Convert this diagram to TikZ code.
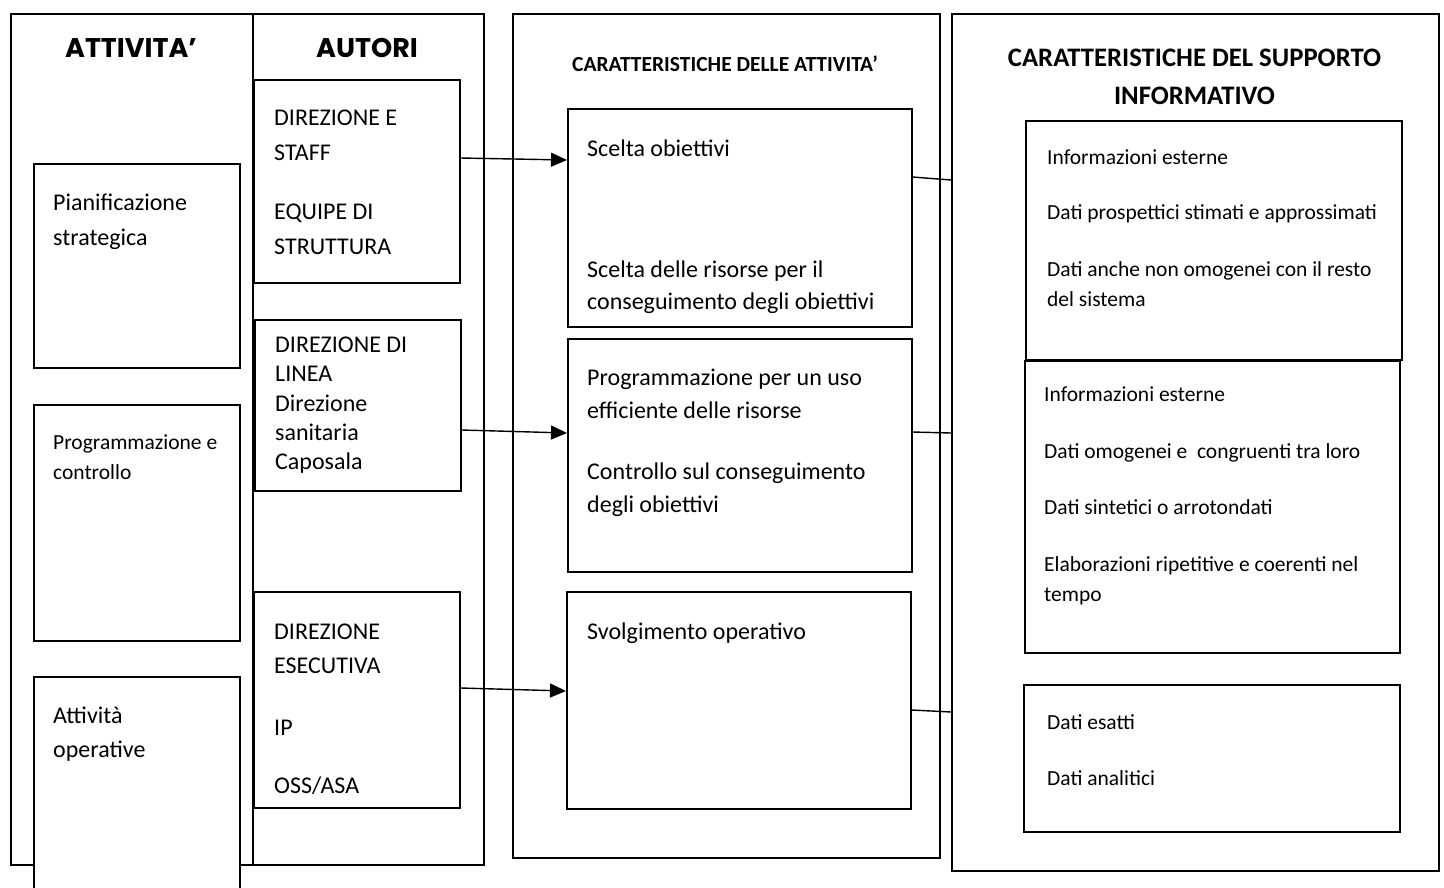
\documentclass[tikz,border=0pt]{standalone}
\usepackage{fontspec}
\setmainfont{Carlito}
\newfontfamily\geofont{Poppins}
\usetikzlibrary{arrows.meta}
\newcommand\fsz[1]{\fontsize{#1}{#1}\selectfont}
\tikzset{
  col/.style={draw, line width=1.6pt, inner sep=0pt, anchor=north west},
  box/.style={draw, fill=white, line width=1.6pt, inner sep=0pt, anchor=north west},
  tx/.style={anchor=base west, inner sep=0pt, font=\fsz{24}},
  ts/.style={anchor=base west, inner sep=0pt, font=\fsz{21.5}},
  ti/.style={anchor=base west, inner sep=0pt, font=\fsz{21.5}},
  hd/.style={anchor=base, inner sep=0pt, font=\geofont\bfseries\fsz{27}},
  hc/.style={anchor=base, inner sep=0pt, font=\bfseries\fsz{21.5}},
  hs/.style={anchor=base, inner sep=0pt, font=\bfseries\fsz{26.7}},
  arr/.style={line width=1.4pt, -{Triangle[length=16pt,width=14pt]}},
  link/.style={line width=1.4pt},
}
\begin{document}
\begin{tikzpicture}[x=1pt,y=-1pt]
\clip (0,0) rectangle (1444,887);
\fill[white] (0,0) rectangle (1444,887);
% columns
\node[col, minimum width=242pt, minimum height=851pt] (colAtt) at (10,13) {};
\node[col, minimum width=231pt, minimum height=851pt] (colAut) at (252,13) {};
\node[col, minimum width=427pt, minimum height=844pt] (colCar) at (512,13) {};
\node[col, minimum width=487pt, minimum height=857pt] (colSup) at (951,13) {};
% headings
\node[hd] (hAtt) at (131,57) {ATTIVITA’};
\node[hd] (hAut) at (367,57) {AUTORI};
\node[hc] (hCar) at (725,71) {CARATTERISTICHE DELLE ATTIVITA’};
\node[hs] (hSup1) at (1194.5,66) {CARATTERISTICHE DEL SUPPORTO};
\node[hs] (hSup2) at (1194.5,104) {INFORMATIVO};
% activity boxes
\node[box, minimum width=206pt, minimum height=204pt] (pian) at (33,163) {};
\node[box, minimum width=206pt, minimum height=236pt] (prog) at (33,404) {};
\node[box, minimum width=206pt, minimum height=240pt] (oper) at (33,676) {};
% author boxes
\node[box, minimum width=206pt, minimum height=203pt] (staff) at (253,79) {};
\node[box, minimum width=206pt, minimum height=171pt] (linea) at (254,319) {};
\node[box, minimum width=206pt, minimum height=216pt] (esec) at (253,591) {};
% characteristic boxes
\node[box, minimum width=344pt, minimum height=218pt] (scelta) at (567,108) {};
\node[box, minimum width=344pt, minimum height=233pt] (progm) at (567,338) {};
\node[box, minimum width=344pt, minimum height=217pt] (svol) at (566,591) {};
% information boxes
\node[box, minimum width=376pt, minimum height=239pt] (info1) at (1025,120) {};
\node[box, minimum width=375pt, minimum height=292pt] (info2) at (1024,360) {};
\node[box, minimum width=376pt, minimum height=147pt] (info3) at (1023,684) {};
% texts: activities
\node[tx] (tP1) at (53,210) {Pianificazione};
\node[tx] (tP2) at (53,245) {strategica};
\node[ts] (tG1) at (53,449) {Programmazione e};
\node[ts] (tG2) at (53,479) {controllo};
\node[tx] (tO1) at (53,723) {Attività};
\node[tx] (tO2) at (53,757) {operative};
% texts: authors
\node[tx] (tS1) at (274,125) {DIREZIONE E};
\node[tx] (tS2) at (274,160) {STAFF};
\node[tx] (tS3) at (274,219) {EQUIPE DI};
\node[tx] (tS4) at (274,254) {STRUTTURA};
\node[tx] (tL1) at (275,352) {DIREZIONE DI};
\node[tx] (tL2) at (275,381) {LINEA};
\node[tx] (tL3) at (275,411) {Direzione};
\node[tx] (tL4) at (275,440) {sanitaria};
\node[tx] (tL5) at (275,469) {Caposala};
\node[tx] (tE1) at (274,639) {DIREZIONE};
\node[tx] (tE2) at (274,673) {ESECUTIVA};
\node[tx] (tE3) at (274,735) {IP};
\node[tx] (tE4) at (274,793) {OSS/ASA};
% texts: characteristics
\node[tx] (tC1) at (587,156) {Scelta obiettivi};
\node[tx] (tC2) at (587,277) {Scelta delle risorse per il};
\node[tx] (tC3) at (587,309) {conseguimento degli obiettivi};
\node[tx] (tC4) at (587,385) {Programmazione per un uso};
\node[tx] (tC5) at (587,418) {efficiente delle risorse};
\node[tx] (tC6) at (587,479) {Controllo sul conseguimento};
\node[tx] (tC7) at (587,512) {degli obiettivi};
\node[tx] (tC8) at (587,639) {Svolgimento operativo};
% texts: information
\node[ti] (tI1) at (1047,164) {Informazioni esterne};
\node[ti] (tI2) at (1047,219) {Dati prospettici stimati e approssimati};
\node[ti] (tI3) at (1047,276) {Dati anche non omogenei con il resto};
\node[ti] (tI4) at (1047,306) {del sistema};
\node[ti] (tJ1) at (1044,401) {Informazioni esterne};
\node[ti] (tJ2) at (1044,458) {Dati omogenei e \ congruenti tra loro};
\node[ti] (tJ3) at (1044,514) {Dati sintetici o arrotondati};
\node[ti] (tJ4) at (1044,571) {Elaborazioni ripetitive e coerenti nel};
\node[ti] (tJ5) at (1044,601) {tempo};
\node[ti] (tK1) at (1047,729) {Dati esatti};
\node[ti] (tK2) at (1047,785) {Dati analitici};
% arrows
\draw[arr] (staff.east |- 0,158) -- (scelta.west |- 0,160);
\draw[arr] (linea.east |- 0,430) -- (progm.west |- 0,433);
\draw[arr] (esec.east |- 0,688) -- (svol.west |- 0,691);
% links
\draw[link] (scelta.east |- 0,177) -- (colSup.west |- 0,180);
\draw[link] (progm.east |- 0,432) -- (colSup.west |- 0,433);
\draw[link] (svol.east |- 0,710) -- (colSup.west |- 0,712);
\end{tikzpicture}
\end{document}
